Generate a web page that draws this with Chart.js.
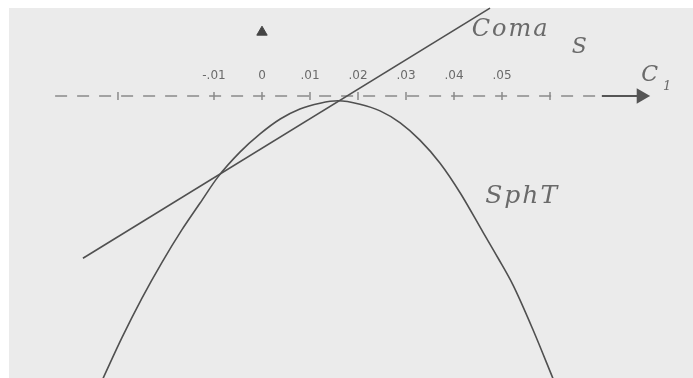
<!DOCTYPE html>
<html>
<head>
<meta charset="utf-8">
<script src="https://cdn.jsdelivr.net/npm/chart.js@4.4.1/dist/chart.umd.min.js"></script>
<style>
  html, body { margin: 0; padding: 0; background: #fff; }
  #chart { display: block; }
</style>
</head>
<body>
<canvas id="chart" width="693" height="378"></canvas>
<script>
// Curves (x = C1, y in the same units, 0 on the C1 axis)
const sphTX = [-0.0331, -0.0292, -0.0250, -0.0208, -0.0167, -0.0129, -0.0092, -0.0046, -0.0004,
  0.0038, 0.0079, 0.0121, 0.0158, 0.0204, 0.0246, 0.0288, 0.0329, 0.0371, 0.0413, 0.0460,
  0.0492, 0.0523, 0.0565, 0.0606];
const sphTY = [-0.0588, -0.0504, -0.0421, -0.0346, -0.0279, -0.0223, -0.0169, -0.0117, -0.0079,
  -0.0048, -0.0027, -0.0015, -0.0010, -0.0017, -0.0031, -0.0056, -0.0092, -0.0140, -0.0202,
  -0.0283, -0.0338, -0.0394, -0.0488, -0.0588];
const comaX = [-0.0373, 0.0475];
const comaY = [-0.0338, 0.0183];

// C1 axis
const tickValues = [-0.03, -0.01, 0, 0.01, 0.02, 0.03, 0.04, 0.05, 0.06];
const labelValues = [-0.01, 0, 0.01, 0.02, 0.03, 0.04, 0.05];
const tickLabels = ['-.01', '0', '.01', '.02', '.03', '.04', '.05'];
const axisDashX = [-0.0431, 0.0708];
const axisArrowX = [0.0708, 0.0790];
const vArrowY = 0.0133;

// text on the plot
const notes = [
  { text: 'Coma', sub: 'S', x: 0.0437, y: 0.0137, size: 24, subSize: 22, dx: 22, dy: 17 },
  { text: 'SphT', x: 0.0465, y: -0.0210, size: 25 },
  { text: 'C', sub: '1', x: 0.0790, y: 0.0044, size: 22, subSize: 13, dx: 3, dy: 12 }
];

const ink = '#505050';
const faint = '#8a8a8a';

const pts = (xs, ys) => xs.map((x, i) => ({ x, y: ys[i] }));

const paper = {
  id: 'paper',
  beforeDraw(chart) {
    const { ctx, width, height } = chart;
    ctx.save();
    ctx.fillStyle = '#fff';
    ctx.fillRect(0, 0, width, height);
    ctx.fillStyle = '#ebebeb';
    ctx.fillRect(9, 8, width - 9, height - 8);
    ctx.restore();
  }
};

const texts = {
  id: 'texts',
  afterDatasetsDraw(chart) {
    const { ctx, scales: { x, y } } = chart;
    ctx.save();
    ctx.fillStyle = '#6a6a6a';
    ctx.textBaseline = 'middle';
    // tick labels above the axis
    ctx.font = '12px "DejaVu Sans"';
    ctx.textAlign = 'center';
    labelValues.forEach((v, i) => {
      ctx.fillText(tickLabels[i], x.getPixelForValue(v), y.getPixelForValue(0) - 20);
    });
    // curve names
    ctx.textAlign = 'left';
    ctx.letterSpacing = '2px';
    notes.forEach(n => {
      const px = x.getPixelForValue(n.x), py = y.getPixelForValue(n.y);
      ctx.font = 'italic ' + n.size + 'px "DejaVu Serif"';
      ctx.fillText(n.text, px, py);
      if (n.sub) {
        const w = ctx.measureText(n.text).width;
        ctx.font = 'italic ' + n.subSize + 'px "DejaVu Serif"';
        ctx.fillText(n.sub, px + w + n.dx, py + n.dy);
      }
    });
    ctx.restore();
  }
};

new Chart(document.getElementById('chart'), {
  type: 'scatter',
  data: {
    datasets: [
      {
        label: 'SphT',
        data: pts(sphTX, sphTY),
        showLine: true,
        cubicInterpolationMode: 'monotone',
        borderColor: ink,
        borderWidth: 1.6,
        pointRadius: 0
      },
      {
        label: 'Coma S',
        data: pts(comaX, comaY),
        showLine: true,
        borderColor: ink,
        borderWidth: 1.6,
        pointRadius: 0
      },
      {
        label: 'axis',
        data: axisDashX.map(v => ({ x: v, y: 0 })),
        showLine: true,
        borderColor: faint,
        borderWidth: 1.5,
        borderDash: [12, 10],
        pointRadius: 0
      },
      {
        label: 'arrow',
        data: axisArrowX.map(v => ({ x: v, y: 0 })),
        showLine: true,
        borderColor: '#555',
        borderWidth: 2,
        pointRadius: [0, 7],
        pointStyle: 'triangle',
        rotation: 90,
        backgroundColor: '#555'
      },
      {
        label: 'ticks',
        data: tickValues.map(v => ({ x: v, y: 0 })),
        pointStyle: 'line',
        rotation: 90,
        pointRadius: 4,
        borderColor: faint,
        borderWidth: 1.5
      },
      {
        label: 'v-arrow',
        data: [{ x: 0, y: vArrowY }],
        pointStyle: 'triangle',
        pointRadius: 6,
        backgroundColor: '#444',
        borderColor: '#444'
      }
    ]
  },
  options: {
    responsive: false,
    animation: false,
    layout: { padding: 0, autoPadding: false },
    plugins: { legend: { display: false }, tooltip: { enabled: false } },
    scales: {
      x: { type: 'linear', display: false, min: -0.05458, max: 0.08979 },
      y: { type: 'linear', display: false, min: -0.05875, max: 0.02 }
    }
  },
  plugins: [paper, texts]
});
</script>
</body>
</html>
